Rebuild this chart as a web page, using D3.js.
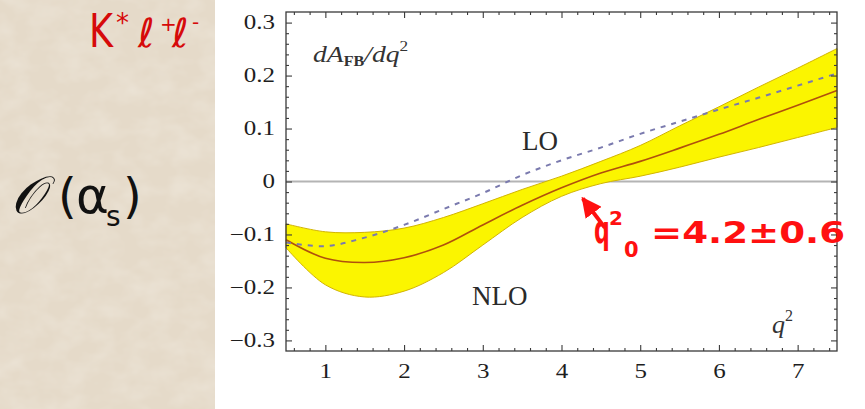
<!DOCTYPE html>
<html>
<head>
<meta charset="utf-8">
<script src="https://cdn.jsdelivr.net/npm/d3@7"></script>
<style>
  html, body { margin: 0; padding: 0; background: #ffffff; }
  svg { display: block; }
</style>
</head>
<body>
<svg id="chart" width="865" height="409"></svg>
<script>
// q^2 grid (GeV^2) and forward-backward asymmetry curves
const q2 = [0.5, 1, 1.5, 2, 2.5, 3, 3.5, 4, 4.5, 5, 5.5, 6, 6.5, 7, 7.5];
const nloCentral = [-0.110, -0.145, -0.153, -0.144, -0.120, -0.082, -0.045, -0.012, 0.016, 0.038, 0.063, 0.089, 0.117, 0.144, 0.172];
const nloUpper   = [-0.080, -0.095, -0.096, -0.088, -0.068, -0.042, -0.015, 0.010, 0.038, 0.068, 0.105, 0.141, 0.178, 0.214, 0.251];
const nloLower   = [-0.125, -0.195, -0.218, -0.207, -0.172, -0.120, -0.068, -0.028, -0.004, 0.010, 0.027, 0.046, 0.064, 0.083, 0.102];
const loCurve    = [-0.115, -0.122, -0.106, -0.082, -0.052, -0.022, 0.012, 0.040, 0.064, 0.090, 0.113, 0.136, 0.158, 0.181, 0.204];

const xTicks = [1, 2, 3, 4, 5, 6, 7];
const yTicks = [-0.3, -0.2, -0.1, 0, 0.1, 0.2, 0.3];

// zero of the asymmetry and its uncertainty
const zeroPoint = [4.2, 0.6];
// arrow: tip near the crossing, tail toward the label
const arrowTip = [4.27, -0.032];
const arrowTail = [4.55, -0.087];

const svg = d3.select("#chart");
const defs = svg.append("defs");

// paper-like mottling for the left panel
const paper = defs.append("filter").attr("id", "paper")
  .attr("x", 0).attr("y", 0).attr("width", "100%").attr("height", "100%");
paper.append("feTurbulence").attr("type", "fractalNoise")
  .attr("baseFrequency", "0.035 0.05").attr("numOctaves", 3).attr("seed", 7).attr("result", "n");
paper.append("feColorMatrix").attr("in", "n").attr("type", "matrix")
  .attr("values", "0 0 0 0 0.95  0 0 0 0 0.93  0 0 0 0 0.88  0 0 0 0.5 -0.18");

svg.append("rect").attr("x", 0).attr("y", 0).attr("width", 215).attr("height", 409).attr("fill", "#e5dac9");
svg.append("rect").attr("x", 0).attr("y", 0).attr("width", 215).attr("height", 409).attr("filter", "url(#paper)");
svg.append("rect").attr("x", 215).attr("y", 0).attr("width", 650).attr("height", 409).attr("fill", "#ffffff");

const x = d3.scaleLinear().domain([0.5, 7.5]).range([286, 837]);
const y = d3.scaleLinear().domain([-0.32, 0.32]).range([351, 12]);

const [x0, x1] = x.range();
const [yb, yt] = y.range();

// zero line
svg.append("line")
  .attr("x1", x0).attr("x2", x1)
  .attr("y1", y(0)).attr("y2", y(0))
  .attr("stroke", "#b4b4b4").attr("stroke-width", 2);

// NLO uncertainty band
const pts = q2.map((q, i) => ({ q, lo: nloLower[i], hi: nloUpper[i], c: nloCentral[i], l: loCurve[i] }));
const band = d3.area()
  .x(d => x(d.q)).y0(d => y(d.lo)).y1(d => y(d.hi))
  .curve(d3.curveCatmullRom);
svg.append("path").datum(pts)
  .attr("d", band)
  .attr("fill", "#fbf500")
  .attr("stroke", "#d2b400").attr("stroke-width", 1);

// NLO central curve
svg.append("path").datum(pts)
  .attr("d", d3.line().x(d => x(d.q)).y(d => y(d.c)).curve(d3.curveCatmullRom))
  .attr("fill", "none").attr("stroke", "#b0500c").attr("stroke-width", 1.6);

// LO curve (dashed)
svg.append("path").datum(pts)
  .attr("d", d3.line().x(d => x(d.q)).y(d => y(d.l)).curve(d3.curveCatmullRom))
  .attr("fill", "none").attr("stroke", "#7a7aae").attr("stroke-width", 2)
  .attr("stroke-dasharray", "5,6");

// frame
svg.append("rect")
  .attr("x", x0).attr("y", yt).attr("width", x1 - x0).attr("height", yb - yt)
  .attr("fill", "none").attr("stroke", "#3a3a3a").attr("stroke-width", 1.3);

// axes with inward ticks on all four sides
const fmt = d => d === 0 ? "0" : d3.format(".1f")(d);
const xMinor = d3.range(0.6, 7.5, 0.2).filter(v => Math.abs(v - Math.round(v)) > 0.05);
const yMinor = d3.range(-0.30, 0.31, 0.02).filter(v => Math.abs(v * 10 - Math.round(v * 10)) > 0.05);
const serif = "'Liberation Serif', 'DejaVu Serif', serif";
const stretch = 1.25;

function styleAxis(g) {
  g.select(".domain").remove();
  g.selectAll(".tick line").attr("stroke", "#3a3a3a").attr("stroke-width", 1.1);
  g.selectAll("text")
    .attr("font-family", serif)
    .attr("font-size", 20).attr("fill", "#1e1e1e")
    .each(function () {
      // widen the tick labels slightly around their anchor
      const t = d3.select(this);
      const ax = +t.attr("x") || 0;
      t.attr("x", 0).attr("transform", `translate(${ax},0) scale(${stretch},1)`);
    });
}

svg.append("g").attr("transform", `translate(0,${yb})`)
  .call(d3.axisBottom(x).tickValues(xTicks).tickSize(-6).tickPadding(13).tickFormat(d3.format("d")))
  .call(styleAxis);
svg.append("g").attr("transform", `translate(0,${yb})`)
  .call(d3.axisBottom(x).tickValues(xMinor).tickSize(-3).tickFormat(""))
  .call(styleAxis);
svg.append("g").attr("transform", `translate(0,${yt})`)
  .call(d3.axisTop(x).tickValues(xTicks).tickSize(-6).tickFormat(""))
  .call(styleAxis);
svg.append("g").attr("transform", `translate(0,${yt})`)
  .call(d3.axisTop(x).tickValues(xMinor).tickSize(-3).tickFormat(""))
  .call(styleAxis);

svg.append("g").attr("transform", `translate(${x0},0)`)
  .call(d3.axisLeft(y).tickValues(yTicks).tickSize(-6).tickPadding(11).tickFormat(fmt))
  .call(styleAxis);
svg.append("g").attr("transform", `translate(${x0},0)`)
  .call(d3.axisLeft(y).tickValues(yMinor).tickSize(-3).tickFormat(""))
  .call(styleAxis);
svg.append("g").attr("transform", `translate(${x1},0)`)
  .call(d3.axisRight(y).tickValues(yTicks).tickSize(-6).tickFormat(""))
  .call(styleAxis);
svg.append("g").attr("transform", `translate(${x1},0)`)
  .call(d3.axisRight(y).tickValues(yMinor).tickSize(-3).tickFormat(""))
  .call(styleAxis);

// in-plot labels
const ylab = svg.append("text").attr("transform", "translate(313,62) scale(1.15,1)")
  .attr("font-family", serif).attr("font-size", 24).attr("fill", "#333");
ylab.append("tspan").attr("font-style", "italic").text("dA");
ylab.append("tspan").attr("font-size", 14).attr("font-weight", "bold").attr("dy", 4).text("FB");
ylab.append("tspan").attr("font-style", "italic").attr("dy", -4).text("/dq");
ylab.append("tspan").attr("font-size", 15).attr("dy", -11).text("2");

svg.append("text").attr("x", 522).attr("y", 150)
  .attr("font-family", serif).attr("font-size", 27).attr("fill", "#2a2a2a").text("LO");
svg.append("text").attr("x", 472).attr("y", 305)
  .attr("font-family", serif).attr("font-size", 27).attr("fill", "#2a2a2a").text("NLO");

const xlab = svg.append("text").attr("x", 772).attr("y", 333)
  .attr("font-family", serif).attr("font-size", 26).attr("fill", "#333");
xlab.append("tspan").attr("font-style", "italic").text("q");
xlab.append("tspan").attr("font-size", 16).attr("dy", -12).text("2");

// arrow to the zero crossing
defs.append("marker").attr("id", "head")
  .attr("viewBox", "0 0 10 10").attr("refX", 9).attr("refY", 5)
  .attr("markerWidth", 5).attr("markerHeight", 5).attr("orient", "auto")
  .append("path").attr("d", "M0,0 L10,5 L0,10 Z").attr("fill", "#ff1010");
svg.append("line")
  .attr("x1", x(arrowTail[0])).attr("y1", y(arrowTail[1]))
  .attr("x2", x(arrowTip[0])).attr("y2", y(arrowTip[1]))
  .attr("stroke", "#ff1010").attr("stroke-width", 4)
  .attr("marker-end", "url(#head)");

// zero-point label: q, superscript 2, subscript 0, value
const red = "#ff1010";
const bold = g => g.attr("font-family", "'DejaVu Sans', sans-serif").attr("font-weight", "bold").attr("fill", red);
svg.append("text").attr("transform", "translate(594,243) scale(0.58,1)")
  .attr("font-size", 38).call(bold).text("q");
svg.append("text").attr("x", 609).attr("y", 225).attr("font-size", 20).call(bold).text("2");
svg.append("text").attr("x", 624).attr("y", 257).attr("font-size", 21).call(bold).text("0");
svg.append("text").attr("x", 651).attr("y", 243).attr("font-size", 30).call(bold)
  .attr("textLength", 194).attr("lengthAdjust", "spacingAndGlyphs")
  .text(`=${zeroPoint[0]}±${zeroPoint[1]}`);

// left panel titles
const kt = svg.append("text").attr("x", 89).attr("y", 47)
  .attr("font-family", "'DejaVu Sans', sans-serif").attr("fill", "#d60a0a");
kt.append("tspan").attr("font-size", 46).attr("textLength", 24).attr("lengthAdjust", "spacingAndGlyphs").text("K");
kt.append("tspan").attr("x", 116).attr("dy", -15).attr("font-size", 26).text("*");
kt.append("tspan").attr("x", 138).attr("dy", 15).attr("font-size", 40).attr("font-style", "italic").text("ℓ");
kt.append("tspan").attr("x", 160).attr("dy", -16).attr("font-size", 20).text("+");
kt.append("tspan").attr("x", 172).attr("dy", 16).attr("font-size", 40).attr("font-style", "italic").text("ℓ");
kt.append("tspan").attr("x", 192).attr("dy", -18).attr("font-size", 20).text("-");

const ot = svg.append("text").attr("x", 11).attr("y", 213)
  .attr("font-family", "'DejaVu Sans', sans-serif").attr("fill", "#111");
ot.append("tspan").attr("font-size", 52).attr("font-family", "'DejaVu Serif', serif").attr("font-style", "italic").text("𝒪");
ot.append("tspan").attr("x", 58).attr("font-size", 48).text("(");
ot.append("tspan").attr("x", 76).attr("font-size", 50).text("α");
ot.append("tspan").attr("x", 106).attr("dy", 13).attr("font-size", 28).text("s");
ot.append("tspan").attr("x", 123).attr("dy", -13).attr("font-size", 48).text(")");
</script>
</body>
</html>
